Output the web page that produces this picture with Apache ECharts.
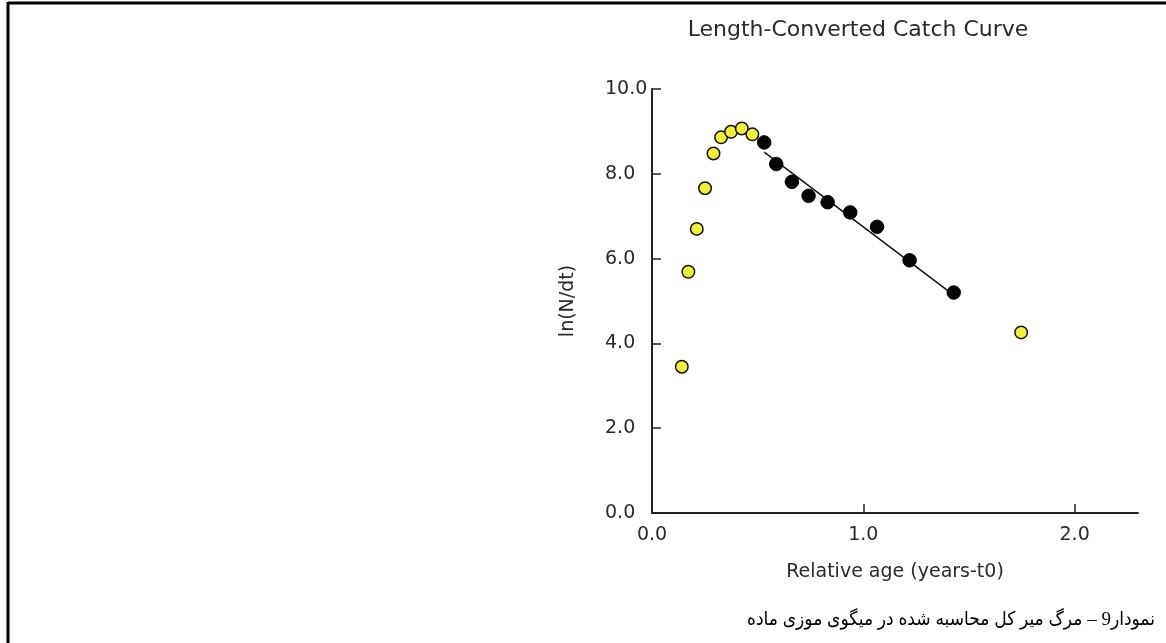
<!DOCTYPE html>
<html>
<head>
<meta charset="utf-8">
<script src="https://cdn.jsdelivr.net/npm/echarts@6/dist/echarts.min.js"></script>
<style>
html,body{margin:0;padding:0;background:#fff;}
#chart{width:1166px;height:643px;}
</style>
</head>
<body>
<div id="chart"></div>
<script>
// Data
var titleText = 'Length-Converted Catch Curve';
var xName = 'Relative age (years-t0)';
var yName = 'ln(N/dt)';
var caption = 'نمودار9 – مرگ میر کل محاسبه شده در میگوی موزی ماده';
var xTicks = [0, 1, 2];
var yTicks = [0, 2, 4, 6, 8, 10];
// points not used in the regression (yellow)
var excludedX = [0.141, 0.172, 0.212, 0.251, 0.291, 0.327, 0.374, 0.425, 0.475, 1.747];
var excludedY = [3.45, 5.69, 6.70, 7.66, 8.48, 8.86, 8.99, 9.07, 8.93, 4.26];
// points used in the regression (black)
var usedX = [0.531, 0.588, 0.662, 0.741, 0.831, 0.938, 1.065, 1.219, 1.428];
var usedY = [8.74, 8.23, 7.81, 7.48, 7.33, 7.09, 6.75, 5.96, 5.20];
// regression line end points
var lineX = [0.531, 1.428];
var lineY = [8.51, 5.14];

function zip(a, b) { return a.map(function (v, i) { return [v, b[i]]; }); }

var FONT = 'DejaVu Sans';
var chart = echarts.init(document.getElementById('chart'), null, { renderer: 'canvas' });
chart.setOption({
  animation: false,
  backgroundColor: '#ffffff',
  grid: { left: 652, right: 28, top: 89, bottom: 130, containLabel: false },
  xAxis: {
    type: 'value', min: 0, max: 2.3, interval: 1,
    name: xName, nameLocation: 'middle', nameGap: 50,
    nameTextStyle: { fontFamily: FONT, fontSize: 19, color: '#2a2a2a' },
    axisLine: { show: true, lineStyle: { color: '#222', width: 2 } },
    axisTick: { show: true, inside: true, length: 9, customValues: xTicks, lineStyle: { color: '#222', width: 1.5 } },
    axisLabel: { customValues: xTicks, margin: 13, fontFamily: FONT, fontSize: 19, color: '#2a2a2a',
      formatter: function (v) { return Number(v).toFixed(1); } },
    splitLine: { show: false }
  },
  yAxis: {
    type: 'value', min: 0, max: 10, interval: 2,
    name: yName, nameLocation: 'middle', nameGap: 74,
    nameTextStyle: { fontFamily: FONT, fontSize: 19, color: '#2a2a2a' },
    axisLine: { show: true, lineStyle: { color: '#222', width: 2 } },
    axisTick: { show: true, inside: true, length: 9, customValues: yTicks, lineStyle: { color: '#222', width: 1.5 } },
    axisLabel: { customValues: yTicks, align: 'left', margin: 47, fontFamily: FONT, fontSize: 19, color: '#2a2a2a',
      formatter: function (v) { return Number(v).toFixed(1); } },
    splitLine: { show: false }
  },
  graphic: [
    { type: 'line', shape: { x1: 8, y1: 3, x2: 1166, y2: 3 }, style: { stroke: '#000', lineWidth: 3 }, z: 10 },
    { type: 'line', shape: { x1: 8, y1: 2, x2: 8, y2: 643 }, style: { stroke: '#000', lineWidth: 3 }, z: 10 },
    { type: 'text', x: 858, y: 30, style: { text: titleText, fontFamily: FONT, fontSize: 22, fill: '#2a2a2a', align: 'center', verticalAlign: 'middle' } },
    { type: 'text', x: 1155, y: 620, style: { text: caption, fontFamily: '"Liberation Serif", "DejaVu Sans Condensed", "DejaVu Sans", serif', fontSize: 19, fill: '#000', align: 'right', verticalAlign: 'middle' } }
  ],
  series: [
    {
      type: 'line', data: zip(lineX, lineY), symbol: 'none', z: 2,
      lineStyle: { color: '#111', width: 1.5 }, silent: true
    },
    {
      type: 'scatter', data: zip(excludedX, excludedY), symbol: 'circle', symbolSize: 12.5, z: 3,
      itemStyle: { color: '#f2ef3a', borderColor: '#111', borderWidth: 1.5, opacity: 1 }
    },
    {
      type: 'scatter', data: zip(usedX, usedY), symbol: 'circle', symbolSize: 13.5, z: 4,
      itemStyle: { color: '#050505', borderColor: '#000', borderWidth: 1, opacity: 1 }
    }
  ]
});
</script>
</body>
</html>
